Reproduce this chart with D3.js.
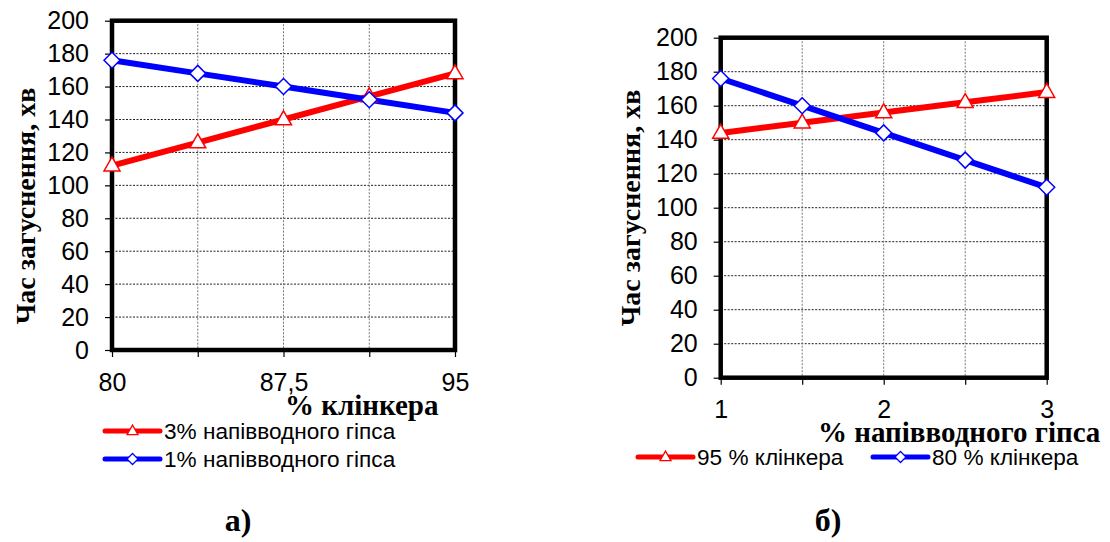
<!DOCTYPE html>
<html><head><meta charset="utf-8">
<script src="https://cdn.jsdelivr.net/npm/d3@7"></script>
<style>
html,body{margin:0;padding:0;background:#fff;}
svg{display:block;}
</style></head>
<body>
<svg id="chart" width="1110" height="542"></svg>
<script>
// ---- data ----
const yTicks = [0, 20, 40, 60, 80, 100, 120, 140, 160, 180, 200];
const yTitle = "Час загуснення, хв";

const leftCategories = [80, 83.75, 87.5, 91.25, 95];
const leftTickLabels = ["80", "", "87,5", "", "95"];
const leftXTitle = "% клінкера";
const leftRedName = "3% напівводного гіпса";
const leftRedValues = [112, 126, 140, 154, 168];
const leftBlueName = "1% напівводного гіпса";
const leftBlueValues = [176, 168, 160, 152, 144];
const leftCaption = "а)";

const rightCategories = [1, 1.5, 2, 2.5, 3];
const rightTickLabels = ["1", "", "2", "", "3"];
const rightXTitle = "% напівводного гіпса";
const rightRedName = "95 % клінкера";
const rightRedValues = [144, 150, 156, 162, 168];
const rightBlueName = "80 % клінкера";
const rightBlueValues = [176, 160, 144, 128, 112];
const rightCaption = "б)";

// ---- drawing ----
const svg = d3.select("#chart");
const RED = "#ff0000", BLUE = "#0000ff";
const SANS = "'Liberation Sans', Arial, sans-serif";
const SERIF = "'Liberation Serif', 'Times New Roman', serif";

function triPath(cx, cy, w) {
  const h = w * 0.87;
  return `M${cx},${cy - h * 0.62}L${cx + w / 2},${cy + h * 0.38}L${cx - w / 2},${cy + h * 0.38}Z`;
}
function diaPath(cx, cy, r) {
  return `M${cx},${cy - r}L${cx + r},${cy}L${cx},${cy + r}L${cx - r},${cy}Z`;
}

function drawChart(cfg) {
  const g = svg.append("g");
  const x = d3.scaleLinear().domain(d3.extent(cfg.categories)).range([cfg.left, cfg.right]);
  const y = d3.scaleLinear().domain([0, 200]).range([cfg.bottom, cfg.top]);

  // horizontal grid
  g.append("g").selectAll("line").data(yTicks.filter(t => t > 0 && t < 200)).join("line")
    .attr("x1", cfg.left).attr("x2", cfg.right)
    .attr("y1", d => y(d)).attr("y2", d => y(d))
    .attr("stroke", "#222").attr("stroke-width", 1).attr("stroke-dasharray", "2,1.5");
  // vertical grid
  g.append("g").selectAll("line").data(cfg.categories.slice(1, -1)).join("line")
    .attr("x1", d => x(d)).attr("x2", d => x(d))
    .attr("y1", cfg.top).attr("y2", cfg.bottom)
    .attr("stroke", "#777").attr("stroke-width", 1).attr("stroke-dasharray", "2,1.5");

  // y axis
  const yAxis = d3.axisLeft(y).tickValues(yTicks).tickSize(7).tickPadding(16);
  const ya = g.append("g").attr("transform", `translate(${cfg.left},0)`).call(yAxis);
  ya.select(".domain").remove();
  ya.selectAll(".tick line").attr("stroke", "#000").attr("stroke-width", 1.2);
  ya.selectAll(".tick text").attr("font-family", SANS).attr("font-size", 25).attr("fill", "#000");

  // x axis
  const xAxis = d3.axisBottom(x).tickValues(cfg.categories)
    .tickFormat((d, i) => cfg.tickLabels[i]).tickSize(7).tickPadding(16);
  const xa = g.append("g").attr("transform", `translate(0,${cfg.bottom})`).call(xAxis);
  xa.select(".domain").remove();
  xa.selectAll(".tick line").attr("stroke", "#000").attr("stroke-width", 1.2);
  xa.selectAll(".tick text").attr("font-family", SANS).attr("font-size", 25).attr("fill", "#000");

  // frame
  g.append("rect").attr("x", cfg.left).attr("y", cfg.top)
    .attr("width", cfg.right - cfg.left).attr("height", cfg.bottom - cfg.top)
    .attr("fill", "none").attr("stroke", "#000").attr("stroke-width", 4.5);

  const line = d3.line().x((d, i) => x(cfg.categories[i])).y(d => y(d));
  // lines
  g.append("path").datum(cfg.redValues).attr("d", line)
    .attr("fill", "none").attr("stroke", RED).attr("stroke-width", 6).attr("stroke-linejoin", "round");
  g.append("path").datum(cfg.blueValues).attr("d", line)
    .attr("fill", "none").attr("stroke", BLUE).attr("stroke-width", 6).attr("stroke-linejoin", "round");
  // markers
  g.append("g").selectAll("path").data(cfg.redValues).join("path")
    .attr("d", (d, i) => triPath(x(cfg.categories[i]), y(d), 16))
    .attr("fill", "#fff").attr("stroke", RED).attr("stroke-width", 1.5);
  g.append("g").selectAll("path").data(cfg.blueValues).join("path")
    .attr("d", (d, i) => diaPath(x(cfg.categories[i]), y(d), 8))
    .attr("fill", "#fff").attr("stroke", BLUE).attr("stroke-width", 1.5);

  // y title
  g.append("text").attr("transform", `translate(${cfg.yTitleX},${cfg.yTitleY}) rotate(-90)`)
    .attr("text-anchor", "middle").attr("dominant-baseline", "central")
    .attr("font-family", SERIF).attr("font-weight", "bold").attr("font-size", 28)
    .text(yTitle);
  // x title
  g.append("text").attr("x", cfg.xTitleX).attr("y", cfg.xTitleY)
    .attr("text-anchor", "start")
    .attr("font-family", SERIF).attr("font-weight", "bold").attr("font-size", 29)
    .text(cfg.xTitle);

  // legend
  cfg.legend.forEach(item => {
    const lg = g.append("g");
    lg.append("line").attr("x1", item.x).attr("x2", item.x + 55).attr("y1", item.y).attr("y2", item.y)
      .attr("stroke", item.color).attr("stroke-width", 5).attr("stroke-linecap", "round");
    lg.append("path").attr("d", item.marker === "tri" ? triPath(item.x + 27.5, item.y, 11) : diaPath(item.x + 27.5, item.y, 5.5))
      .attr("fill", "#fff").attr("stroke", item.color).attr("stroke-width", 1.3);
    lg.append("text").attr("x", item.x + 59).attr("y", item.y).attr("dy", "0.35em")
      .attr("font-family", SANS).attr("font-size", 22.6).attr("fill", "#000").text(item.name);
  });

  // caption
  g.append("text").attr("x", cfg.capX).attr("y", cfg.capY).attr("text-anchor", "middle")
    .attr("font-family", SERIF).attr("font-weight", "bold").attr("font-size", 32).text(cfg.caption);
}

drawChart({
  categories: leftCategories, tickLabels: leftTickLabels,
  redValues: leftRedValues, blueValues: leftBlueValues,
  left: 112, right: 455, top: 20.7, bottom: 350,
  yTitleX: 25, yTitleY: 206,
  xTitle: leftXTitle, xTitleX: 285, xTitleY: 415,
  legend: [
    {x: 105, y: 431, color: RED, marker: "tri", name: leftRedName},
    {x: 105, y: 459, color: BLUE, marker: "dia", name: leftBlueName}
  ],
  caption: leftCaption, capX: 238, capY: 531
});

drawChart({
  categories: rightCategories, tickLabels: rightTickLabels,
  redValues: rightRedValues, blueValues: rightBlueValues,
  left: 720.7, right: 1046.7, top: 37.7, bottom: 377.7,
  yTitleX: 630, yTitleY: 208,
  xTitle: rightXTitle, xTitleX: 818, xTitleY: 442,
  legend: [
    {x: 638, y: 457, color: RED, marker: "tri", name: rightRedName},
    {x: 873, y: 457, color: BLUE, marker: "dia", name: rightBlueName}
  ],
  caption: rightCaption, capX: 828, capY: 531
});
</script>
</body></html>
